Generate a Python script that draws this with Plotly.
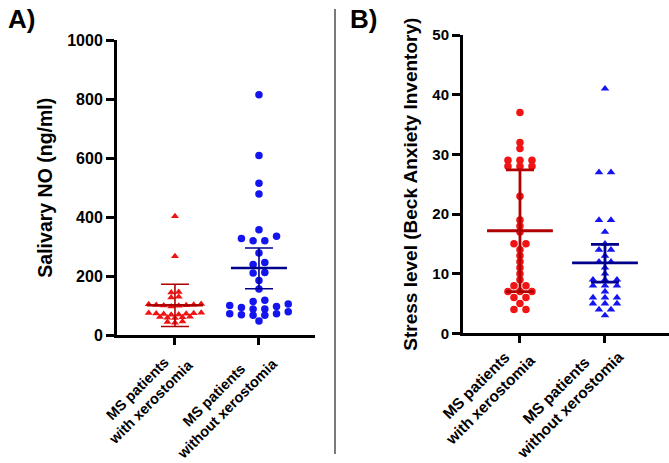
import plotly.graph_objects as go

# ---------------- data ----------------
categories = ["MS patients<br>with xerostomia", "MS patients<br>without xerostomia"]

no_with = [403, 268, 147, 145, 131, 128, 106, 105, 104, 103, 102, 101, 100, 98,
           77, 76, 75, 74, 73, 72, 71, 70, 63, 62, 61, 60, 59, 47, 45, 43]
no_without = [815, 609, 515, 479, 358, 336, 328, 320, 320, 279, 247, 240, 213, 211,
              186, 157, 119, 115, 106, 101, 98, 94, 89, 89, 80, 73, 73, 70, 68, 68, 49]
no_center = [102, 228]
no_lower = [30, 158]
no_upper = [173, 296]

bai_with = [37, 32, 31, 29, 29, 29, 28, 28, 28, 23, 19, 18, 17, 15, 15, 14, 13, 12,
            11, 10, 9, 8, 8, 7, 7, 7, 6, 6, 5, 4, 4]
bai_without = [41, 27, 27, 19, 19, 17, 15, 14, 14, 13, 12, 12, 11, 10, 9, 9, 9,
               8, 8, 8, 7, 6, 6, 6, 5, 5, 5, 4, 4, 3]
bai_center = [17.2, 11.8]
bai_lower = [7.0, 8.6]
bai_upper = [27.4, 14.9]

# ---------------- style / layout constants ----------------
W, H = 669, 463
FONT = "Liberation Sans, Arial, sans-serif"
RED, BLUE = "#f01414", "#1414f0"
DRED, DBLUE = "#b00000", "#00008c"
VS, VO = 0.96, 9.0  # observed vertical mapping of the rendered page: obs = VS*fig + VO


def fx(px):
    return px / W


def fy(py):
    return 1 - ((py - VO) / VS) / H


xA_dom = [fx(117), fx(315)]
yA_dom = [fy(335), fy(40)]
xB_dom = [fx(463), fx(669)]
yB_dom = [fy(333), fy(35)]
xA_rng = [-0.69, 1.667]
xB_rng = [-0.67, 1.753]


def px_per_unit(dom, rng):
    return (dom[1] - dom[0]) * W / (rng[1] - rng[0])


def swarm(values, tol, spacing_units):
    """GraphPad-like row layout: values in the same row are spread
    symmetrically, lowest values in the middle."""
    n = len(values)
    order = sorted(range(n), key=lambda i: values[i])
    rows = []
    for i in order:
        if rows and values[i] - values[rows[-1][0]] <= tol:
            rows[-1].append(i)
        else:
            rows.append([i])
    offs = [0.0] * n
    for row in rows:
        m = len(row)
        slots = sorted([k - (m - 1) / 2 for k in range(m)], key=lambda s: (abs(s), s))
        for idx, s in zip(row, slots):
            offs[idx] = s * spacing_units
    return offs


fig = go.Figure()

ppuA = px_per_unit(xA_dom, xA_rng)
ppuB = px_per_unit(xB_dom, xB_rng)

groups = [
    (no_with, 0, "x", "y", RED, "triangle-up", 7, 8, 7.5, ppuA),
    (no_without, 1, "x", "y", BLUE, "circle", 7.5, 17, 11.7, ppuA),
    (bai_with, 0, "x2", "y2", RED, "circle", 7.5, 0.4, 12, ppuB),
    (bai_without, 1, "x2", "y2", BLUE, "triangle-up", 7.5, 0.4, 12, ppuB),
]
for vals, ci, xa, ya, col, sym, sz, tol, sp, ppu in groups:
    offs = swarm(vals, tol, sp / ppu)
    fig.add_trace(go.Scatter(
        x=[ci + o for o in offs], y=vals, xaxis=xa, yaxis=ya, mode="markers",
        marker=dict(color=col, symbol=sym, size=sz, line=dict(width=0)),
        hoverinfo="skip"))

summaries = [
    (no_center, no_lower, no_upper, "x", "y", 40, 14, 1.6, 2.6),
    (bai_center, bai_lower, bai_upper, "x2", "y2", 47, 14, 2.8, 2.8),
]
for cen, lo, up, xa, ya, msize, capw, thick, mlw in summaries:
    for ci, col in enumerate([DRED, DBLUE]):
        fig.add_trace(go.Scatter(
            x=[ci], y=[cen[ci]], xaxis=xa, yaxis=ya, mode="markers",
            marker=dict(symbol="line-ew", size=msize, color=col,
                        line=dict(color=col, width=mlw)),
            error_y=dict(type="data", symmetric=False,
                         array=[up[ci] - cen[ci]], arrayminus=[cen[ci] - lo[ci]],
                         color=col, thickness=thick, width=capw),
            hoverinfo="skip"))

axis_common = dict(showgrid=False, zeroline=False, showline=True, linecolor="black",
                   linewidth=3, ticks="outside", tickcolor="black", tickwidth=2.5,
                   ticklen=8)

fig.update_layout(
    width=W, height=H, margin=dict(l=0, r=0, t=0, b=0),
    paper_bgcolor="white", plot_bgcolor="white", showlegend=False,
    font=dict(family=FONT, color="black"),
    xaxis=dict(domain=xA_dom, range=xA_rng, tickvals=[0, 1], showticklabels=False,
               anchor="y", **{**axis_common, "ticklen": 7}),
    yaxis=dict(domain=yA_dom, range=[0, 1000], tickvals=[0, 200, 400, 600, 800, 1000],
               anchor="x", tickfont=dict(size=16, weight="bold"),
               title=dict(text="Salivary NO (ng/ml)", standoff=10,
                          font=dict(size=19.5, weight="bold")),
               **axis_common),
    xaxis2=dict(domain=xB_dom, range=xB_rng, tickvals=[0, 1], showticklabels=False,
                anchor="y2", **{**axis_common, "ticklen": 7}),
    yaxis2=dict(domain=yB_dom, range=[0, 50], tickvals=[0, 10, 20, 30, 40, 50],
                anchor="x2", tickfont=dict(size=15, weight="bold"),
                title=dict(text="Stress level (Beck Anxiety Inventory)", standoff=10,
                           font=dict(size=19, weight="bold")),
                **axis_common),
)

# category labels (rotated, centred lines); shift = label centre relative to tick
label_shifts = {
    "x": [(-31, -60), (-38, -66)],
    "x2": [(-37, -59), (-42, -64)],
}
for xa, ya, fs in [("x", "y domain", 14.5), ("x2", "y2 domain", 15.5)]:
    for ci, lab in enumerate(categories):
        dx, dy = label_shifts[xa][ci]
        fig.add_annotation(x=ci, y=0, xref=xa, yref=ya, text=lab, showarrow=False,
                           textangle=-45, align="center", xanchor="center",
                           yanchor="middle", xshift=dx, yshift=dy,
                           font=dict(size=fs, weight="bold", family=FONT))

fig.add_annotation(x=fx(21), y=1.0 + 7 / H, xref="paper", yref="paper", text="A)",
                   showarrow=False, xanchor="center", yanchor="top",
                   font=dict(size=26, weight="bold", family=FONT))
fig.add_annotation(x=fx(363), y=1.0 + 7 / H, xref="paper", yref="paper", text="B)",
                   showarrow=False, xanchor="center", yanchor="top",
                   font=dict(size=26, weight="bold", family=FONT))

fig.add_shape(type="line", xref="paper", yref="paper", x0=fx(335), x1=fx(335),
              y0=0, y1=1, line=dict(color="#222222", width=1.2))

fig.write_html(
    "out.html",
    config={"displayModeBar": False},
    post_script="document.body.style.margin='0';document.body.style.padding='0';"
                "document.documentElement.style.overflow='hidden';",
)
